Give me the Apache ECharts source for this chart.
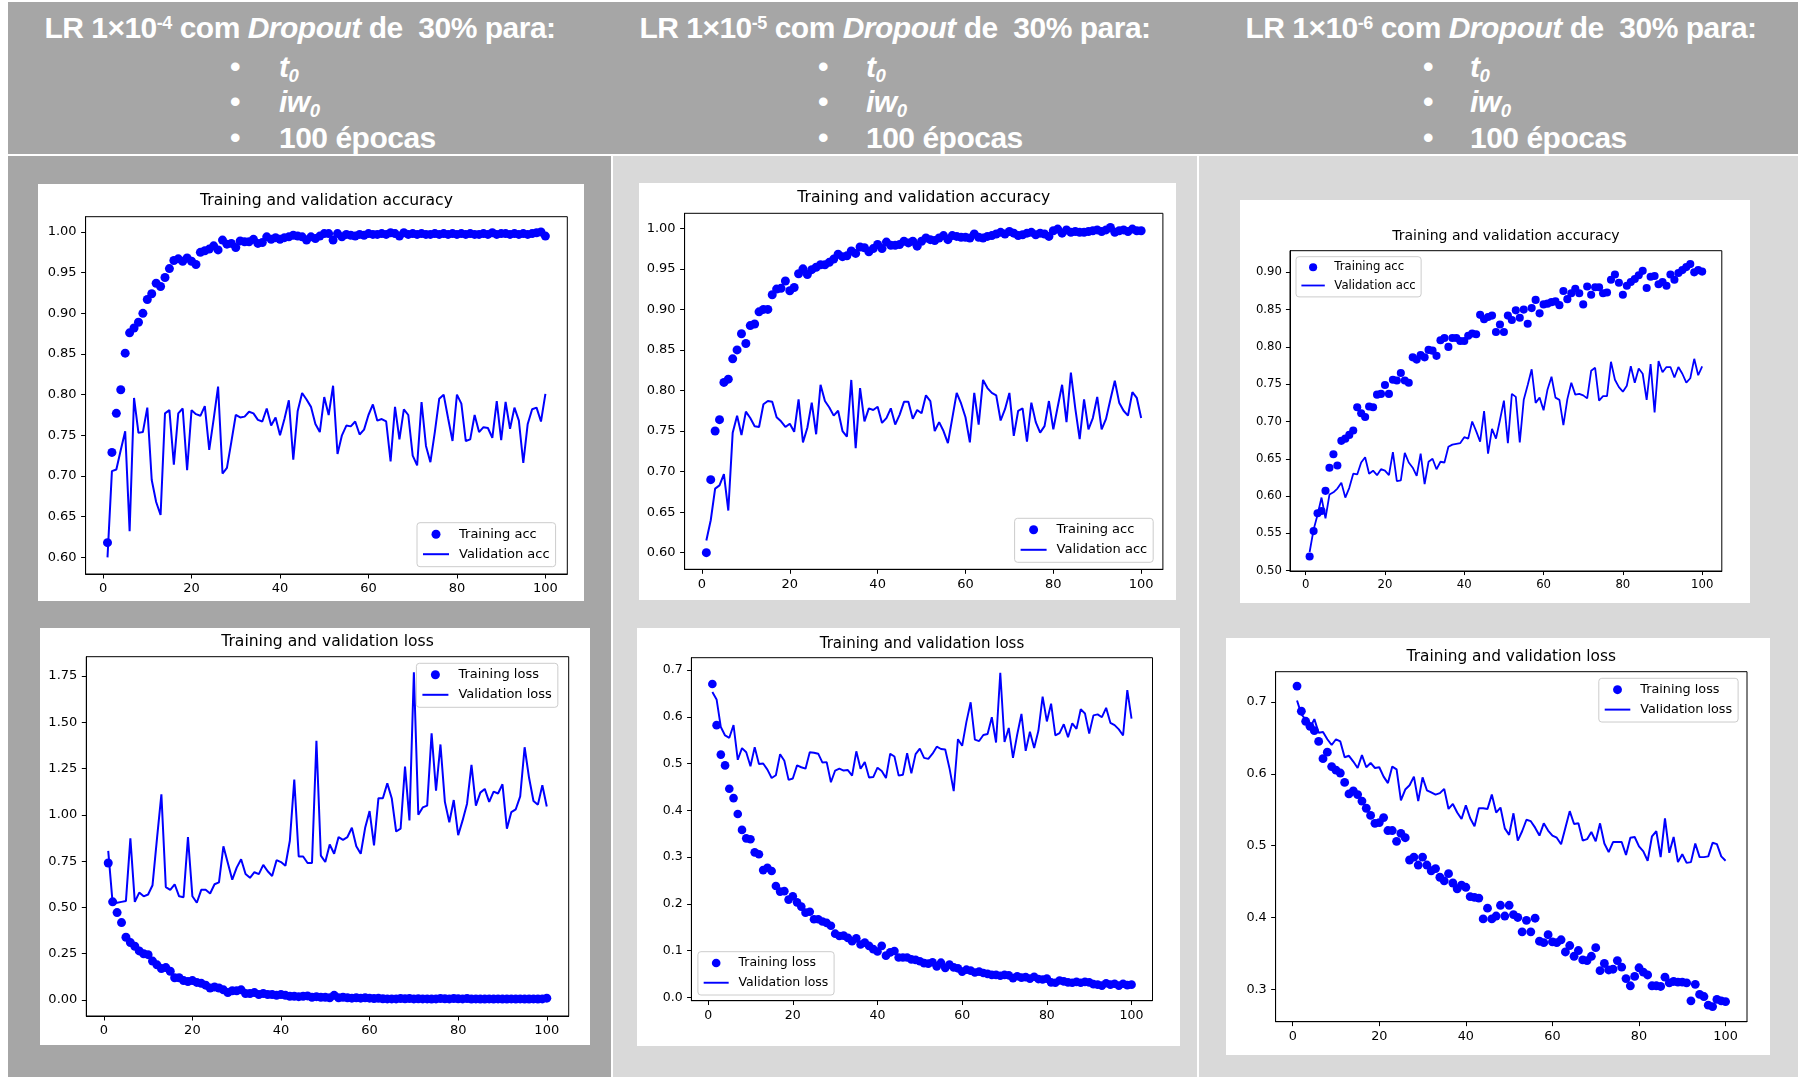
<!DOCTYPE html>
<html>
<head>
<meta charset="utf-8">
<title>Training and validation curves</title>
<script src="https://cdn.jsdelivr.net/npm/echarts@6.0.0/dist/echarts.min.js"></script>
<style>
  html, body { margin:0; padding:0; background:#ffffff; }
  body { position:relative; width:1798px; height:1077px; overflow:hidden; font-family:"Liberation Sans", Arial, sans-serif; }
  .blk { position:absolute; }
  .hline { position:absolute; color:#ffffff; font-weight:bold; font-size:30px; line-height:30px; white-space:nowrap; letter-spacing:-0.5px; }
  .hline sup { font-size:0.6em; vertical-align:9px; line-height:0; }
  .hline sub { font-size:0.62em; vertical-align:-5px; line-height:0; }
  .panel { position:absolute; background:#ffffff; }
</style>
</head>
<body>
<div class="blk" style="left:8px;top:2px;width:1790px;height:152px;background:#a6a6a6"></div>
<div class="blk" style="left:8px;top:156px;width:603px;height:921px;background:#a6a6a6"></div>
<div class="blk" style="left:613px;top:156px;width:584px;height:921px;background:#d9d9d9"></div>
<div class="blk" style="left:1199px;top:156px;width:599px;height:921px;background:#d9d9d9"></div>
<div id="header"></div>
<div id="charts"></div>
<script>
// ---------------- data ----------------
const epochs = [];
for (let e = 1; e <= 100; e++) epochs.push(e);

const xTicks = [0, 20, 40, 60, 80, 100];
const yTicksAcc = [0.60, 0.65, 0.70, 0.75, 0.80, 0.85, 0.90, 0.95, 1.00];
const yTicksLoss4 = [0.00, 0.25, 0.50, 0.75, 1.00, 1.25, 1.50, 1.75];
const yTicksLoss5 = [0.0, 0.1, 0.2, 0.3, 0.4, 0.5, 0.6, 0.7];
const yTicksAcc6 = [0.50, 0.55, 0.60, 0.65, 0.70, 0.75, 0.80, 0.85, 0.90];
const yTicksLoss6 = [0.3, 0.4, 0.5, 0.6, 0.7];

const lrExponents = ['-4', '-5', '-6'];
const bulletItems = ['t0', 'iw0', '100 épocas'];
const titleAcc = 'Training and validation accuracy';
const titleLoss = 'Training and validation loss';
const legendAcc = ['Training acc', 'Validation acc'];
const legendLoss = ['Training loss', 'Validation loss'];

// LR 1e-4
const acc4Train = [
  0.618, 0.729, 0.777, 0.806, 0.851, 0.876, 0.882, 0.889, 0.900, 0.917,
  0.924, 0.937, 0.933, 0.944, 0.955, 0.965, 0.967, 0.964, 0.968, 0.964,
  0.960, 0.975, 0.977, 0.979, 0.983, 0.978, 0.990, 0.985, 0.986, 0.981,
  0.989, 0.988, 0.988, 0.991, 0.986, 0.987, 0.994, 0.991, 0.993, 0.991,
  0.993, 0.994, 0.996, 0.995, 0.994, 0.990, 0.994, 0.992, 0.995, 0.998,
  0.998, 0.990, 0.998, 0.994, 0.997, 0.996, 0.995, 0.997, 0.996, 0.998,
  0.997, 0.997, 0.998, 0.997, 0.999, 0.998, 0.995, 0.999, 0.997, 0.998,
  0.997, 0.998, 0.997, 0.997, 0.998, 0.997, 0.998, 0.997, 0.998, 0.997,
  0.998, 0.997, 0.998, 0.997, 0.997, 0.998, 0.997, 0.999, 0.997, 0.998,
  0.998, 0.997, 0.998, 0.997, 0.998, 0.997, 0.998, 0.999, 1.000, 0.995
];
const acc4Val = [
  0.600, 0.706, 0.708, 0.732, 0.755, 0.632, 0.796, 0.753, 0.754, 0.784,
  0.695, 0.668, 0.652, 0.777, 0.781, 0.714, 0.777, 0.783, 0.707, 0.781,
  0.776, 0.774, 0.786, 0.732, 0.770, 0.810, 0.703, 0.710, 0.742, 0.775,
  0.772, 0.773, 0.779, 0.777, 0.769, 0.767, 0.783, 0.762, 0.772, 0.750,
  0.770, 0.793, 0.720, 0.780, 0.802, 0.794, 0.785, 0.764, 0.754, 0.797,
  0.775, 0.811, 0.727, 0.750, 0.762, 0.761, 0.767, 0.751, 0.757, 0.775,
  0.788, 0.768, 0.770, 0.767, 0.718, 0.785, 0.745, 0.782, 0.775, 0.725,
  0.713, 0.791, 0.737, 0.717, 0.754, 0.795, 0.800, 0.771, 0.743, 0.800,
  0.789, 0.743, 0.745, 0.775, 0.754, 0.760, 0.759, 0.747, 0.792, 0.744,
  0.791, 0.758, 0.784, 0.768, 0.716, 0.764, 0.782, 0.784, 0.767, 0.801
];
const loss4Train = [
  0.740, 0.530, 0.472, 0.418, 0.339, 0.310, 0.290, 0.265, 0.250, 0.245,
  0.210, 0.190, 0.170, 0.175, 0.155, 0.120, 0.120, 0.105, 0.100, 0.105,
  0.095, 0.090, 0.080, 0.065, 0.070, 0.065, 0.055, 0.040, 0.050, 0.050,
  0.055, 0.035, 0.035, 0.040, 0.030, 0.035, 0.030, 0.030, 0.025, 0.030,
  0.025, 0.020, 0.020, 0.018, 0.020, 0.022, 0.015, 0.018, 0.015, 0.015,
  0.012, 0.025, 0.012, 0.015, 0.012, 0.010, 0.012, 0.010, 0.012, 0.010,
  0.008, 0.009, 0.007, 0.006, 0.006, 0.006, 0.008, 0.007, 0.008, 0.006,
  0.007, 0.006, 0.006, 0.005, 0.006, 0.008, 0.007, 0.006, 0.008, 0.007,
  0.006, 0.008, 0.005, 0.006, 0.005, 0.005, 0.006, 0.005, 0.006, 0.005,
  0.005, 0.006, 0.005, 0.006, 0.005, 0.005, 0.006, 0.005, 0.006, 0.010
];
const loss4Val = [
  0.805, 0.522, 0.525, 0.530, 0.535, 0.873, 0.530, 0.580, 0.560, 0.570,
  0.620, 0.870, 1.111, 0.610, 0.595, 0.625, 0.560, 0.555, 0.880, 0.560,
  0.525, 0.595, 0.595, 0.575, 0.625, 0.635, 0.830, 0.740, 0.650, 0.715,
  0.760, 0.680, 0.660, 0.690, 0.680, 0.730, 0.695, 0.670, 0.755, 0.745,
  0.725, 0.860, 1.190, 0.775, 0.775, 0.740, 0.740, 1.400, 0.780, 0.745,
  0.840, 0.790, 0.880, 0.865, 0.880, 0.930, 0.830, 0.790, 0.930, 1.020,
  0.835, 1.090, 1.090, 1.170, 1.090, 0.910, 0.925, 1.260, 0.970, 1.770,
  1.000, 1.040, 1.050, 1.440, 1.130, 1.380, 1.070, 0.960, 1.080, 0.890,
  0.970, 1.060, 1.270, 1.050, 1.120, 1.140, 1.070, 1.125, 1.115, 1.165,
  0.925, 1.015, 1.030, 1.100, 1.365, 1.200, 1.075, 1.055, 1.160, 1.045
];

// LR 1e-5
const acc5Train = [
  0.600, 0.690, 0.750, 0.764, 0.810, 0.814, 0.839, 0.850, 0.870, 0.858,
  0.880, 0.882, 0.897, 0.900, 0.900, 0.918, 0.925, 0.926, 0.935, 0.923,
  0.927, 0.944, 0.950, 0.943, 0.949, 0.952, 0.955, 0.955, 0.958, 0.962,
  0.968, 0.965, 0.966, 0.972, 0.969, 0.977, 0.976, 0.971, 0.975, 0.980,
  0.975, 0.983, 0.979, 0.979, 0.980, 0.984, 0.982, 0.984, 0.978, 0.984,
  0.988, 0.986, 0.985, 0.988, 0.991, 0.986, 0.991, 0.990, 0.989, 0.989,
  0.988, 0.993, 0.989, 0.988, 0.990, 0.991, 0.993, 0.995, 0.993, 0.996,
  0.994, 0.991, 0.992, 0.994, 0.995, 0.992, 0.994, 0.993, 0.990, 0.997,
  0.999, 0.994, 0.998, 0.995, 0.996, 0.995, 0.995, 0.996, 0.997, 0.998,
  0.996, 0.998, 1.001, 0.995, 0.997, 0.998, 0.996, 0.999, 0.997, 0.997
];
const acc5Val = [
  0.615, 0.640, 0.679, 0.683, 0.697, 0.652, 0.748, 0.769, 0.745, 0.774,
  0.766, 0.756, 0.755, 0.783, 0.787, 0.786, 0.767, 0.762, 0.755, 0.759,
  0.749, 0.789, 0.736, 0.754, 0.785, 0.746, 0.807, 0.787, 0.779, 0.769,
  0.775, 0.750, 0.743, 0.813, 0.729, 0.803, 0.762, 0.778, 0.776, 0.780,
  0.760, 0.766, 0.778, 0.758, 0.770, 0.786, 0.786, 0.765, 0.776, 0.772,
  0.794, 0.787, 0.750, 0.761, 0.750, 0.735, 0.766, 0.797, 0.784, 0.767,
  0.736, 0.797, 0.758, 0.813, 0.803, 0.797, 0.794, 0.763, 0.777, 0.797,
  0.744, 0.775, 0.778, 0.737, 0.785, 0.761, 0.748, 0.756, 0.787, 0.752,
  0.780, 0.807, 0.761, 0.822, 0.778, 0.740, 0.789, 0.752, 0.766, 0.792,
  0.752, 0.765, 0.789, 0.812, 0.785, 0.775, 0.769, 0.798, 0.791, 0.766
];
const loss5Train = [
  0.670, 0.582, 0.519, 0.496, 0.446, 0.426, 0.392, 0.358, 0.340, 0.338,
  0.310, 0.306, 0.272, 0.277, 0.270, 0.238, 0.226, 0.227, 0.209, 0.216,
  0.203, 0.194, 0.181, 0.183, 0.167, 0.167, 0.162, 0.159, 0.153, 0.136,
  0.131, 0.132, 0.127, 0.120, 0.126, 0.113, 0.117, 0.110, 0.103, 0.098,
  0.110, 0.089, 0.096, 0.099, 0.085, 0.085, 0.085, 0.081, 0.080, 0.077,
  0.073, 0.072, 0.075, 0.066, 0.074, 0.063, 0.070, 0.064, 0.062, 0.055,
  0.059, 0.057, 0.053, 0.055, 0.052, 0.050, 0.048, 0.048, 0.046, 0.048,
  0.047, 0.041, 0.045, 0.042, 0.043, 0.040, 0.044, 0.039, 0.038, 0.040,
  0.032, 0.031, 0.036, 0.034, 0.032, 0.031, 0.033, 0.031, 0.033, 0.032,
  0.028, 0.027, 0.025, 0.030, 0.027, 0.029, 0.025, 0.029, 0.026, 0.027
];
const loss5Val = [
  0.653, 0.637, 0.578, 0.560, 0.555, 0.582, 0.508, 0.533, 0.524, 0.494,
  0.535, 0.499, 0.500, 0.487, 0.469, 0.475, 0.520, 0.506, 0.465, 0.468,
  0.496, 0.492, 0.489, 0.524, 0.523, 0.521, 0.502, 0.503, 0.460, 0.485,
  0.489, 0.485, 0.486, 0.474, 0.526, 0.489, 0.503, 0.470, 0.471, 0.491,
  0.484, 0.469, 0.521, 0.515, 0.474, 0.476, 0.522, 0.479, 0.520, 0.532,
  0.512, 0.510, 0.521, 0.536, 0.531, 0.530, 0.490, 0.441, 0.552, 0.538,
  0.589, 0.631, 0.551, 0.548, 0.561, 0.563, 0.599, 0.545, 0.694, 0.546,
  0.576, 0.512, 0.562, 0.606, 0.527, 0.568, 0.533, 0.570, 0.643, 0.590,
  0.628, 0.560, 0.565, 0.584, 0.556, 0.586, 0.574, 0.616, 0.607, 0.564,
  0.603, 0.605, 0.599, 0.619, 0.587, 0.582, 0.573, 0.560, 0.657, 0.596
];

// LR 1e-6
const acc6Train = [
  0.519, 0.553, 0.577, 0.580, 0.607, 0.638, 0.656, 0.641, 0.674, 0.677,
  0.682, 0.688, 0.719, 0.711, 0.706, 0.720, 0.719, 0.736, 0.737, 0.749,
  0.737, 0.756, 0.755, 0.765, 0.755, 0.752, 0.786, 0.783, 0.789, 0.786,
  0.796, 0.795, 0.788, 0.809, 0.812, 0.800, 0.812, 0.812, 0.808, 0.808,
  0.815, 0.818, 0.817, 0.843, 0.837, 0.840, 0.842, 0.820, 0.830, 0.820,
  0.842, 0.836, 0.849, 0.839, 0.850, 0.831, 0.852, 0.863, 0.845, 0.857,
  0.858, 0.860, 0.861, 0.856, 0.875, 0.864, 0.872, 0.878, 0.872, 0.857,
  0.881, 0.870, 0.880, 0.880, 0.872, 0.873, 0.890, 0.897, 0.886, 0.870,
  0.882, 0.887, 0.891, 0.896, 0.902, 0.879, 0.894, 0.895, 0.884, 0.887,
  0.882, 0.897, 0.890, 0.899, 0.903, 0.907, 0.911, 0.900, 0.903, 0.901
];
const acc6Val = [
  0.525, 0.555, 0.575, 0.598, 0.570, 0.602, 0.605, 0.610, 0.618, 0.598,
  0.611, 0.630, 0.629, 0.645, 0.652, 0.630, 0.634, 0.628, 0.636, 0.634,
  0.628, 0.659, 0.620, 0.621, 0.658, 0.645, 0.638, 0.627, 0.657, 0.616,
  0.646, 0.650, 0.636, 0.646, 0.645, 0.666, 0.669, 0.670, 0.671, 0.679,
  0.677, 0.700, 0.687, 0.673, 0.714, 0.657, 0.690, 0.677, 0.702, 0.728,
  0.671, 0.737, 0.733, 0.672, 0.729, 0.749, 0.770, 0.725, 0.732, 0.715,
  0.743, 0.760, 0.732, 0.729, 0.695, 0.730, 0.752, 0.736, 0.737, 0.735,
  0.731, 0.768, 0.772, 0.728, 0.734, 0.734, 0.780, 0.756, 0.746, 0.740,
  0.748, 0.774, 0.752, 0.771, 0.764, 0.729, 0.777, 0.712, 0.781, 0.766,
  0.773, 0.773, 0.759, 0.773, 0.764, 0.752, 0.758, 0.784, 0.762, 0.774
];
const loss6Train = [
  0.722, 0.687, 0.673, 0.666, 0.660, 0.645, 0.621, 0.630, 0.610, 0.605,
  0.601, 0.588, 0.572, 0.576, 0.571, 0.562, 0.552, 0.542, 0.531, 0.532,
  0.539, 0.521, 0.521, 0.506, 0.517, 0.511, 0.480, 0.484, 0.473, 0.484,
  0.473, 0.465, 0.468, 0.456, 0.451, 0.461, 0.448, 0.440, 0.445, 0.442,
  0.429, 0.428, 0.427, 0.398, 0.413, 0.398, 0.402, 0.417, 0.402, 0.417,
  0.404, 0.400, 0.380, 0.396, 0.380, 0.399, 0.367, 0.365, 0.376, 0.366,
  0.365, 0.369, 0.352, 0.361, 0.346, 0.354, 0.341, 0.340, 0.346, 0.358,
  0.326, 0.336, 0.327, 0.328, 0.340, 0.331, 0.315, 0.305, 0.318, 0.330,
  0.324, 0.320, 0.305, 0.305, 0.304, 0.317, 0.309, 0.311, 0.310, 0.310,
  0.309, 0.284, 0.307, 0.293, 0.290, 0.278, 0.276, 0.286, 0.284, 0.283
];
const loss6Val = [
  0.702, 0.683, 0.675, 0.664, 0.676, 0.657, 0.658, 0.648, 0.640, 0.648,
  0.645, 0.623, 0.625, 0.617, 0.608, 0.626, 0.609, 0.615, 0.608, 0.609,
  0.596, 0.587, 0.610, 0.606, 0.563, 0.578, 0.584, 0.596, 0.562, 0.595,
  0.577, 0.574, 0.571, 0.573, 0.579, 0.551, 0.558, 0.546, 0.537, 0.556,
  0.538, 0.527, 0.552, 0.552, 0.551, 0.571, 0.546, 0.553, 0.524, 0.515,
  0.545, 0.507, 0.520, 0.536, 0.534, 0.525, 0.514, 0.531, 0.521, 0.514,
  0.511, 0.502, 0.525, 0.548, 0.530, 0.531, 0.507, 0.509, 0.519, 0.506,
  0.531, 0.503, 0.491, 0.505, 0.505, 0.505, 0.487, 0.511, 0.512, 0.499,
  0.492, 0.479, 0.513, 0.520, 0.484, 0.538, 0.490, 0.512, 0.477, 0.488,
  0.476, 0.477, 0.503, 0.484, 0.484, 0.485, 0.504, 0.502, 0.485, 0.479
];

// ---------------- header (slide text) ----------------
const headerCols = [
  { cx: 300, bx: 235, tx: 279 },
  { cx: 895, bx: 823, tx: 866 },
  { cx: 1501, bx: 1428, tx: 1470 }
];
const lineTops = [12.6, 51.6, 87.1, 122.6];
function itemHtml(s) {
  if (s === 't0') return '<i>t<sub>0</sub></i>';
  if (s === 'iw0') return '<i>iw<sub>0</sub></i>';
  return s;
}
const header = document.getElementById('header');
headerCols.forEach((c, i) => {
  const l1 = document.createElement('div');
  l1.className = 'hline';
  l1.style.left = (c.cx - 300) + 'px';
  l1.style.width = '600px';
  l1.style.textAlign = 'center';
  l1.style.top = lineTops[0] + 'px';
  l1.innerHTML = 'LR 1×10<sup>' + lrExponents[i] + '</sup> com <i>Dropout</i> de&nbsp; 30% para:';
  header.appendChild(l1);
  bulletItems.forEach((it, k) => {
    const b = document.createElement('div');
    b.className = 'hline';
    b.style.left = (c.bx - 5) + 'px';
    b.style.top = lineTops[k + 1] + 'px';
    b.textContent = '•';
    header.appendChild(b);
    const t = document.createElement('div');
    t.className = 'hline';
    t.style.left = c.tx + 'px';
    t.style.top = lineTops[k + 1] + 'px';
    t.innerHTML = itemHtml(it);
    header.appendChild(t);
  });
});

// ---------------- charts ----------------
const panels = [
  { box: [38, 184, 546, 417], grid: [47.6, 32.7, 481.7, 357.3], y: [0.5795, 1.0188], ticks: yTicksAcc, dec: 2,
    titleY: 17, fs: 13, leg: [379, 338.7], title: titleAcc, names: legendAcc, train: acc4Train, val: acc4Val },
  { box: [40, 628, 550, 417], grid: [46.3, 28.7, 482.4, 359.3], y: [-0.0864, 1.854], ticks: yTicksLoss4, dec: 2,
    titleY: 13.7, fs: 13, leg: [376.4, 35.3], title: titleLoss, names: legendLoss, train: loss4Train, val: loss4Val },
  { box: [639, 183, 537, 417], grid: [45.6, 30.3, 478.3, 356], y: [0.5795, 1.0185], ticks: yTicksAcc, dec: 2,
    titleY: 15.3, fs: 13, leg: [375.6, 335.3], title: titleAcc, names: legendAcc, train: acc5Train, val: acc5Val },
  { box: [637, 628, 543, 418], grid: [54.4, 29.7, 461.1, 343], y: [-0.0073, 0.7263], ticks: yTicksLoss5, dec: 1,
    titleY: 16, fs: 12.5, leg: [60.9, 323.7], title: titleLoss, names: legendLoss, train: loss5Train, val: loss5Val },
  { box: [1240, 200, 510, 403], grid: [50, 50.7, 431.8, 320.3], y: [0.4995, 0.929], ticks: yTicksAcc6, dec: 2,
    titleY: 36.7, fs: 11.7, leg: [56, 56.7], title: titleAcc, names: legendAcc, train: acc6Train, val: acc6Val },
  { box: [1226, 638, 544, 417], grid: [49.6, 33.7, 471.4, 350], y: [0.255, 0.742], ticks: yTicksLoss6, dec: 1,
    titleY: 18.7, fs: 12.8, leg: [372.8, 40.3], title: titleLoss, names: legendLoss, train: loss6Train, val: loss6Val }
];

const BLUE = '#0000ff';
const FONT = 'DejaVu Sans';
const LINE_ICON = 'path://M0,0L26,0L26,2L0,2Z';
const holder = document.getElementById('charts');

panels.forEach((p) => {
  if (p.train.length !== 100 || p.val.length !== 100) {
    throw new Error('bad length ' + p.title + ' ' + p.train.length + ' ' + p.val.length);
  }
  const s = p.fs / 13;
  const el = document.createElement('div');
  el.className = 'panel';
  el.style.left = p.box[0] + 'px';
  el.style.top = p.box[1] + 'px';
  el.style.width = p.box[2] + 'px';
  el.style.height = p.box[3] + 'px';
  holder.appendChild(el);
  const chart = echarts.init(el, null, { renderer: 'canvas', width: p.box[2], height: p.box[3] });
  const tickCommon = {
    show: true, inside: false, length: 4.5 * s,
    lineStyle: { color: '#000000', width: 1 }
  };
  chart.setOption({
    animation: false,
    backgroundColor: '#ffffff',
    title: {
      text: p.title,
      left: p.grid[0] + p.grid[2] / 2,
      top: p.titleY,
      textAlign: 'center',
      textVerticalAlign: 'middle',
      padding: 0,
      textStyle: { fontFamily: FONT, fontSize: p.fs * 1.2, fontWeight: 'normal', color: '#000000' }
    },
    grid: {
      left: p.grid[0], top: p.grid[1], width: p.grid[2], height: p.grid[3],
      show: true, borderColor: '#000000', borderWidth: 1, backgroundColor: 'transparent',
      containLabel: false, outerBoundsMode: 'none'
    },
    xAxis: {
      type: 'value', min: -3.95, max: 104.95,
      axisLine: { show: true, onZero: false, lineStyle: { color: '#000000', width: 1 } },
      splitLine: { show: false },
      axisTick: Object.assign({ customValues: xTicks }, tickCommon),
      axisLabel: {
        customValues: xTicks, margin: 8.5 * s, color: '#000000',
        fontFamily: FONT, fontSize: p.fs, formatter: (v) => String(Math.round(v))
      }
    },
    yAxis: {
      type: 'value', min: p.y[0], max: p.y[1],
      axisLine: { show: true, onZero: false, lineStyle: { color: '#000000', width: 1 } },
      splitLine: { show: false },
      axisTick: Object.assign({ customValues: p.ticks }, tickCommon),
      axisLabel: {
        customValues: p.ticks, margin: 9 * s, color: '#000000',
        fontFamily: FONT, fontSize: p.fs, formatter: (v) => Number(v).toFixed(p.dec)
      }
    },
    legend: {
      orient: 'vertical', left: p.leg[0], top: p.leg[1], align: 'left',
      padding: [5 * s, 6 * s, 6 * s, 6 * s], itemGap: 7 * s,
      itemWidth: 26 * s, itemHeight: 9 * s,
      backgroundColor: 'rgba(255,255,255,0.8)', borderColor: '#cccccc', borderWidth: 1, borderRadius: 3,
      selectedMode: false,
      textStyle: { fontFamily: FONT, fontSize: p.fs, color: '#000000', padding: [0, 0, 0, 5 * s] },
      data: [
        { name: p.names[0], icon: 'circle' },
        { name: p.names[1], icon: LINE_ICON, itemStyle: { color: BLUE } }
      ]
    },
    series: [
      {
        type: 'scatter', name: p.names[0],
        data: epochs.map((e, i) => [e, p.train[i]]),
        symbol: 'circle', symbolSize: 9 * s,
        itemStyle: { color: BLUE, opacity: 1 },
        emphasis: { disabled: true }
      },
      {
        type: 'line', name: p.names[1],
        data: epochs.map((e, i) => [e, p.val[i]]),
        symbol: 'none', showSymbol: false,
        lineStyle: { color: BLUE, width: 2 * s },
        itemStyle: { color: BLUE },
        emphasis: { disabled: true }
      }
    ]
  });
});
</script>
</body>
</html>
